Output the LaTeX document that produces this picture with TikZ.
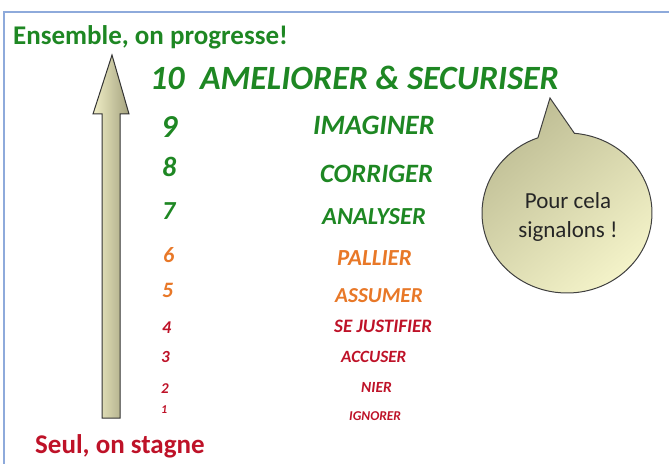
\documentclass[tikz,border=0pt]{standalone}
\usepackage{fontspec}
\setmainfont{Carlito}
\definecolor{frameblue}{RGB}{142,170,219}
\definecolor{lgreen}{RGB}{30,135,35}
\definecolor{lorange}{RGB}{232,120,40}
\definecolor{lred}{RGB}{190,18,40}
\definecolor{khakiL}{RGB}{240,238,198}
\definecolor{khakiD}{RGB}{165,163,127}
\definecolor{bubL}{RGB}{244,243,201}
\definecolor{bubD}{RGB}{189,188,147}
\tikzset{
  lbl/.style={anchor=base west, inner sep=0pt, font=\bfseries\itshape},
  fs/.style={font=\fontsize{#1}{#1}\selectfont\bfseries\itshape},
}
\begin{document}
\begin{tikzpicture}[x=1pt,y=1pt]
\useasboundingbox (0,0) rectangle (669,464);
% frame
\draw[frameblue, line width=1.5pt] (669,452) -- (4,452) -- (4,0);
% arrow
\draw[line width=1pt, draw=black!80, left color=khakiL, right color=khakiD]
  (112,409) -- (129,350) -- (120,350) -- (120,46) -- (102,46) -- (102,350) -- (93,350) -- cycle;
% bubble
\draw[line width=1pt, draw=black!75, top color=bubD, bottom color=bubL, shading angle=40]
  (550,366) -- (574.4,330.7) arc[start angle=85, end angle=-250, x radius=85, y radius=80] -- cycle;
\node[align=center, text=black!85, font=\fontsize{23}{29}\selectfont] (bub) at (568,247) {Pour cela\\signalons !};
% headings
\node[anchor=base west, inner sep=0pt, text=lgreen, font=\fontsize{27}{30}\selectfont\bfseries] (top) at (13,419) {Ensemble, on progresse!};
\node[anchor=base west, inner sep=0pt, text=lred, font=\fontsize{27}{30}\selectfont\bfseries] (bot) at (35,11) {Seul, on stagne};
% level 10
\node[lbl, text=lgreen, fs=34] (l10) at (150,374) {10\ \ AMELIORER \& SECURISER};
% numbers
\node[lbl, text=lgreen, fs=32] (n9) at (161,326) {9};
\node[lbl, text=lgreen, fs=28] (n8) at (162,287) {8};
\node[lbl, text=lgreen, fs=26] (n7) at (162,244) {7};
\node[lbl, text=lorange, fs=22] (n6) at (163,202) {6};
\node[lbl, text=lorange, fs=22] (n5) at (162,167) {5};
\node[lbl, text=lred, fs=18] (n4) at (162,131) {4};
\node[lbl, text=lred, fs=17] (n3) at (161,102) {3};
\node[lbl, text=lred, fs=15] (n2) at (161,71) {2};
\node[lbl, text=lred, fs=12] (n1) at (161,51) {1};
% words
\node[lbl, text=lgreen, fs=28] (w9) at (313,329) {IMAGINER};
\node[lbl, text=lgreen, fs=26.5] (w8) at (320,281) {CORRIGER};
\node[lbl, text=lgreen, fs=24.5] (w7) at (322,240) {ANALYSER};
\node[lbl, text=lorange, fs=23] (w6) at (337,199) {PALLIER};
\node[lbl, text=lorange, fs=21.3] (w5) at (335,162) {ASSUMER};
\node[lbl, text=lred, fs=19] (w4) at (334,132) {SE JUSTIFIER};
\node[lbl, text=lred, fs=17.2] (w3) at (341,102) {ACCUSER};
\node[lbl, text=lred, fs=15.5] (w2) at (361,72) {NIER};
\node[lbl, text=lred, fs=13.5] (w1) at (349,44) {IGNORER};
\end{tikzpicture}
\end{document}
